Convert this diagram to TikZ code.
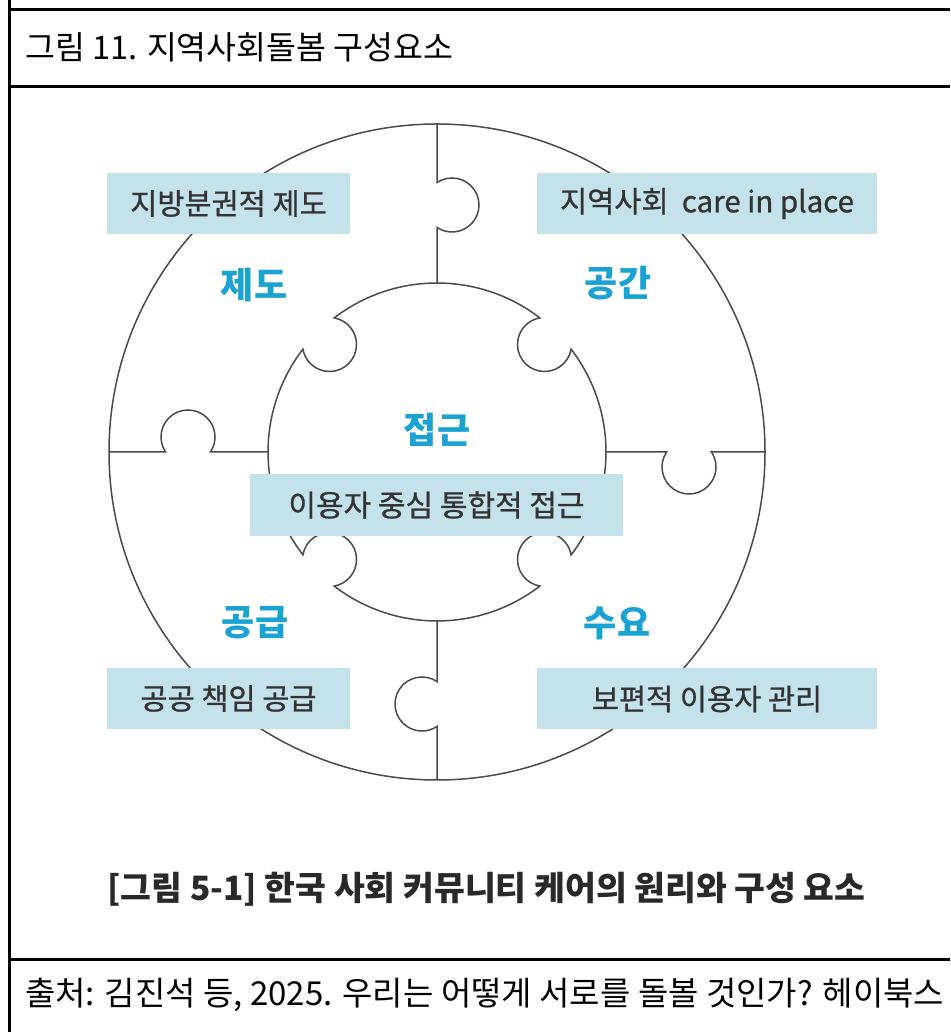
\documentclass[tikz,border=0pt]{standalone}
\usepackage{fontspec}
\setmainfont{Noto Sans CJK KR}
\newfontfamily\krmed[FakeBold=0.8]{Noto Sans CJK KR}
\usetikzlibrary{calc}
\definecolor{boxfill}{HTML}{C4E2EB}
\definecolor{labcyan}{HTML}{1AA3D2}
\definecolor{boxtext}{HTML}{333333}
\definecolor{puzline}{HTML}{4A4A4A}
\tikzset{
  puz/.style={draw=puzline, line width=1.5pt},
  frame/.style={draw=black, line width=3pt},
  infobox/.style={fill=boxfill, draw=none, inner sep=0pt, minimum height=61pt, text=boxtext, font=\krmed\fontsize{29.5}{32}\selectfont},
  seclabel/.style={text=labcyan, inner sep=0pt, font=\bfseries\fontsize{36}{40}\selectfont},
  plaintext/.style={inner sep=0pt, anchor=west, text=black}
}
\begin{document}
\begin{tikzpicture}[x=1pt,y=1pt]
\useasboundingbox (0,0) rectangle (950,1032);
\fill[white] (0,0) rectangle (950,1032);
% table frame
\draw[frame] (9.5,1032) -- (9.5,0);
\draw[frame] (8,1022.5) -- (950,1022.5);
\draw[frame] (8,945.5) -- (950,945.5);
\draw[frame] (8,72.5) -- (950,72.5);
% title and source
\node[plaintext, font=\fontsize{32.5}{38}\selectfont] (title) at (25,985) {그림 11. 지역사회돌봄 구성요소};
\node[plaintext, font=\fontsize{33}{38}\selectfont] (source) at (25,37) {출처: 김진석 등, 2025. 우리는 어떻게 서로를 돌볼 것인가? 헤이북스};
% puzzle
\coordinate (C) at (437,580);
\draw[puz] (C) circle[radius=328];
\draw[puz] (437,908) -- (437,849.45) arc[start angle=123.75, end angle=-123.75, radius=27] -- (437,749);
\draw[puz] (109,580) -- (165.55,580) arc[start angle=213.75, end angle=-33.75, radius=27] -- (268,580);
\draw[puz] (606,580) -- (666.55,580) arc[start angle=-213.75, end angle=33.75, radius=27] -- (765,580);
\draw[puz] (437,411) -- (437,350.45) arc[start angle=56.25, end angle=303.75, radius=27] -- (437,252);
\draw[puz, fill=white] ($(C)+(-37.49:169)$)
  arc[start angle=-37.49, end angle=37.49, radius=169]
  arc[start angle=-9.87, end angle=-260.13, radius=27]
  arc[start angle=52.51, end angle=127.49, radius=169]
  arc[start angle=80.13, end angle=-170.13, radius=27]
  arc[start angle=142.51, end angle=217.49, radius=169]
  arc[start angle=170.13, end angle=-80.13, radius=27]
  arc[start angle=232.51, end angle=307.49, radius=169]
  arc[start angle=260.13, end angle=9.87, radius=27] -- cycle;
% boxes
\node[infobox, minimum width=243pt] (bTL) at (228.5,828.5) {지방분권적 제도};
\node[infobox, minimum width=340pt] (bTR) at (707,828.5) {지역사회~~care in place};
\node[infobox, minimum width=243pt] (bBL) at (228.5,333.5) {공공 책임 공급};
\node[infobox, minimum width=340pt] (bBR) at (707,333) {보편적 이용자 관리};
\node[infobox, minimum width=373pt, minimum height=62pt, font=\krmed\fontsize{30}{34}\selectfont] (bC) at (436.5,527) {이용자 중심 통합적 접근};
% section labels
\node[seclabel] (lTL) at (254,747) {제도};
\node[seclabel] (lTR) at (618,749) {공간};
\node[seclabel] (lC) at (437,602) {접근};
\node[seclabel] (lBL) at (255,409) {공급};
\node[seclabel] (lBR) at (617,409) {수요};
% caption
\node[inner sep=0pt, text=boxtext!80!black, font=\bfseries\fontsize{33.5}{38}\selectfont] (cap) at (486.5,143) {[그림 5-1] 한국 사회 커뮤니티 케어의 원리와 구성 요소};
\end{tikzpicture}
\end{document}
